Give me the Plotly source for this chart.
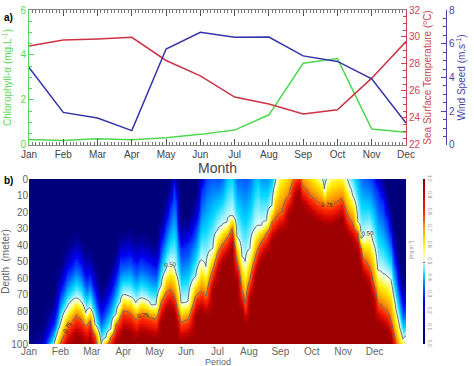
import numpy as np
import plotly.graph_objects as go

# ---------------- panel a) monthly means ----------------
months = ['Jan', 'Feb', 'Mar', 'Apr', 'May', 'Jun', 'Jul', 'Aug', 'Sep', 'Oct', 'Nov', 'Dec']
chl = [0.24, 0.20, 0.28, 0.23, 0.32, 0.47, 0.66, 1.34, 3.63, 3.84, 0.71, 0.56]
sst = [29.34, 29.78, 29.86, 29.98, 28.26, 27.12, 25.55, 25.03, 24.30, 24.60, 26.95, 29.66]
wind = [4.59, 1.93, 1.60, 0.85, 5.69, 6.68, 6.38, 6.40, 5.28, 4.95, 3.92, 1.30]

# ---------------- panel b) chlorophyll section (read from picture) ----------------
# time in months since 1 Jan; depth (m) of the 0.50 and 0.75 contours and of the blue halo top
period_t = [0.0, 0.4, 0.65, 0.8, 1.0, 1.2, 1.5, 1.65, 1.8, 1.94, 2.1, 2.3, 2.45, 2.6, 2.77, 2.9,
            3.0, 3.2, 3.4, 3.57, 3.73, 3.88, 4.04, 4.2, 4.35, 4.49, 4.6, 4.68, 4.84, 5.06, 5.3,
            5.47, 5.63, 5.85, 6.0, 6.14, 6.3, 6.46, 6.62, 6.78, 6.88, 7.03, 7.19, 7.3, 7.4, 7.56,
            7.73, 7.83, 7.95, 8.05, 8.27, 8.47, 8.6, 8.7, 8.95, 9.2, 9.32, 9.4, 9.5, 9.6, 9.8,
            9.95, 10.1, 10.2, 10.3, 10.47, 10.57, 10.63, 10.82, 10.95, 11.1, 11.26, 11.4, 11.52,
            11.6, 11.68, 11.8, 11.9, 12.0]
depth_c50 = [125, 118, 106, 100, 88, 78, 72, 74, 81, 78, 88, 100, 96, 91, 82, 75,
             70, 71, 75, 72, 73, 76, 76, 65, 55, 51, 53, 57, 75, 74, 59,
             49, 53, 42, 31, 28, 26, 22, 35, 47, 50, 42, 30, 28, 28, 25,
             16, 3, -8, -12, -15, -20, -20, -18, -12, -5, -1, 6, -1, -6, -8,
             -6, -1, 4, 10, 26, 36, 35, 32, 38, 55, 57, 59, 61,
             70, 79, 90, 97, 95]
depth_c75 = [140, 132, 120, 112, 100, 90, 83, 85, 89, 86, 95, 108, 101, 96, 88, 84,
             80, 81, 85, 82, 83, 84, 85, 75, 69, 67, 70, 75, 87, 85, 71,
             68, 71, 55, 45, 40, 36, 30, 50, 68, 76, 61, 48, 42, 38, 33,
             26, 24, 21, 20, 10, -1, -4, 4, 10, 14, 15, 16, 16, 16, 14,
             12, 20, 24, 27, 33, 42, 48, 53, 62, 75, 78, 80, 86,
             92, 100, 108, 112, 110]
depth_halo = [118, 108, 95, 88, 70, 58, 50, 54, 62, 60, 70, 84, 78, 70, 60, 50,
              50, 48, 53, 50, 52, 54, 56, 40, 28, 18, 6, 13, 43, 40, 28,
              8, -5, -10, -5, -8, -30, -35, -10, -12, -10, -15, -30, -35, -20, -15,
              -20, -25, -30, -35, -40, -45, -45, -45, -40, -35, -30, -25, -30, -35, -35,
              -35, -30, -28, -25, -20, -15, -10, -5, 0, 8, 15, 25, 35,
              45, 55, 70, 80, 78]
depths = list(range(0, 101))
background = 0.04

cols = []
for h, c5, c7 in zip(depth_halo, depth_c50, depth_c75):
    cols.append(np.interp(depths, [h - 20, h, c5, c7, c7 + 12], [background, 0.3, 0.5, 0.75, 0.97]))
zgrid = np.array(cols).T

jet = [[0.0, '#00006e'], [0.12, '#000096'], [0.25, '#0000f0'], [0.33, '#0050ff'],
       [0.42, '#00d8ff'], [0.5, '#e6ffff'], [0.55, '#ffff90'], [0.61, '#ffee00'],
       [0.7, '#ffa000'], [0.8, '#ff2800'], [0.9, '#c80000'], [1.0, '#8a0000']]

FONT = 'Liberation Sans, Arial, sans-serif'
GRAY = '#555555'
GREEN = '#5ad75a'
RED = '#cc4450'
BLUE = '#4444aa'

fig = go.Figure()
xi = list(range(len(months)))
fig.add_trace(go.Scatter(x=xi, y=chl, mode='lines', line=dict(color='#4fd84f', width=1.5),
                         xaxis='x', yaxis='y', showlegend=False))
fig.add_trace(go.Scatter(x=xi, y=sst, mode='lines', line=dict(color='#cc3344', width=1.5),
                         xaxis='x', yaxis='y2', showlegend=False))
fig.add_trace(go.Scatter(x=xi, y=wind, mode='lines', line=dict(color='#3333aa', width=1.5),
                         xaxis='x', yaxis='y3', showlegend=False))

fig.add_trace(go.Contour(
    x=period_t, y=depths, z=zgrid, xaxis='x2', yaxis='y4',
    zmin=0, zmax=1, colorscale=jet, showscale=True,
    contours=dict(coloring='heatmap', start=0.5, end=0.75, size=0.25, showlabels=True,
                  labelfont=dict(size=6, color='#222222', family=FONT), labelformat='.2f'),
    line=dict(color='#666666', width=1),
    colorbar=dict(x=0.944, xanchor='left', xpad=0, y=0, yanchor='bottom', ypad=0,
                  len=0.494, lenmode='fraction', thickness=2, outlinewidth=0,
                  tickmode='linear', tick0=0, dtick=0.1, tickformat='.1f',
                  ticks='', tickangle=90, tickfont=dict(size=5, color='#888888', family=FONT)),
))

DOM = 377 / 417
fig.update_layout(
    width=474, height=366, margin=dict(l=29, r=28, t=10, b=22),
    paper_bgcolor='white', plot_bgcolor='white',
    font=dict(family=FONT, color=GRAY),
    xaxis=dict(domain=[0, DOM], anchor='y', range=[0, 11], tickmode='array', tickvals=xi,
               ticktext=months, ticks='inside', ticklen=6, tickcolor=GRAY, showline=True,
               linecolor='#888888', mirror='ticks', showgrid=False, zeroline=False,
               tickfont=dict(size=10, color='#444444'),
               minor=dict(dtick=0.1, ticks='inside', ticklen=3, tickcolor='#777777'),
               title=dict(text='Month', font=dict(size=14, color='#444444'), standoff=2),
               automargin=False),
    yaxis=dict(domain=[0.596, 1.0], anchor='x', range=[0, 6], dtick=2, ticks='inside',
               ticklen=5, tickcolor=GREEN, showline=True, linecolor=GREEN, showgrid=False,
               zeroline=False, tickfont=dict(size=10, color=GREEN),
               minor=dict(dtick=0.5, ticks='inside', ticklen=3, tickcolor=GREEN),
               title=dict(text='Chlorophyll-α (mg.L<sup>-1</sup>)', font=dict(size=10, color=GREEN),
                          standoff=6), automargin=False),
    yaxis2=dict(overlaying='y', anchor='x', side='right', range=[22, 32], dtick=2, ticks='inside',
                ticklen=5, tickcolor=RED, showline=True, linecolor=RED, showgrid=False,
                zeroline=False, tickfont=dict(size=10, color=RED),
                minor=dict(dtick=0.5, ticks='inside', ticklen=3, tickcolor=RED),
                title=dict(text='Sea Surface Temperature (<sup>o</sup>C)', font=dict(size=10, color=RED),
                           standoff=4), automargin=False),
    yaxis3=dict(overlaying='y', anchor='free', position=1.0, side='right', range=[0, 8], dtick=2,
                ticks='inside', ticklen=5, tickcolor=BLUE, showline=True, linecolor=BLUE,
                showgrid=False, zeroline=False, tickfont=dict(size=10, color=BLUE),
                minor=dict(dtick=0.5, ticks='inside', ticklen=3, tickcolor=BLUE),
                title=dict(text='Wind Speed (m.s<sup>-1</sup>)', font=dict(size=10, color=BLUE),
                           standoff=4), automargin=False),
    xaxis2=dict(domain=[0, DOM], anchor='y4', range=[0, 12], tickmode='array',
                tickvals=list(range(12)), ticktext=months, ticks='', showline=False,
                showgrid=False, zeroline=False, tickfont=dict(size=10, color='#666666'),
                automargin=False),
    yaxis4=dict(domain=[0, 0.494], anchor='x2', range=[100, 0], tickmode='linear', tick0=0,
                dtick=10, ticks='', showline=False, showgrid=False, zeroline=False,
                tickfont=dict(size=10, color='#666666'),
                title=dict(text='Depth  (meter)', font=dict(size=10, color='#666666'), standoff=4),
                automargin=False),
    annotations=[
        dict(text='<b>a)</b>', x=0, y=1.0, xref='paper', yref='paper', xanchor='right',
             yanchor='top', xshift=-14, yshift=0, showarrow=False, font=dict(size=10, color='black')),
        dict(text='<b>b)</b>', x=0, y=0.494, xref='paper', yref='paper', xanchor='right',
             yanchor='top', xshift=-14, yshift=6, showarrow=False, font=dict(size=10, color='black')),
        dict(text='[mg.m<sup>-3</sup>]', x=0.928, y=0.25, xref='paper', yref='paper',
             textangle=-90, showarrow=False, font=dict(size=5, color='#999999')),
        dict(text='Period', x=0.5 * DOM, y=0, xref='paper', yref='paper', xanchor='center',
             yanchor='middle', yshift=-18, showarrow=False, font=dict(size=9, color='#666666')),
    ],
)

fig.write_html('out.html', config={'displayModeBar': False},
               post_script="document.body.style.margin='0px';")
